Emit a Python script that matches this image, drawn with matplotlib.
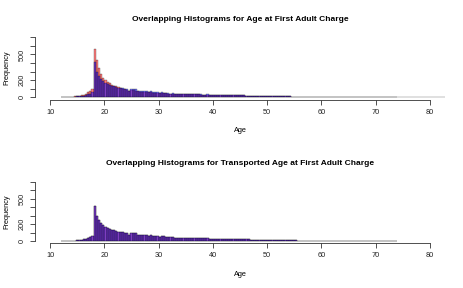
import matplotlib.pyplot as plt
import numpy as np

plt.rcParams['font.family'] = ['Liberation Sans', 'DejaVu Sans']

# bin layout: 0.4-year bins starting at age 12
bin_start = 12.0
bin_width = 0.4

# counts per bin, age at first adult charge (original, red)
original_counts = [
    1, 2, 2, 3, 4, 6, 8, 12, 16, 22, 30, 40, 55, 70, 95,          # 12.0 - 17.6
    560, 440, 340, 270, 225, 200, 175, 160, 145, 135,               # 18.0 - 21.6
    125, 118, 110, 100, 92, 85, 72, 80, 78, 74,                     # 22.0 - 25.6
    66, 64, 62, 60, 58, 56, 55, 52, 50, 48,                         # 26.0 - 29.6
    46, 48, 45, 44, 42, 40, 40, 38, 37, 38,                         # 30.0 - 33.6
    36, 35, 35, 34, 33, 34, 32, 32, 31, 30,                         # 34.0 - 37.6
    30, 29, 30, 28, 28, 27, 28, 26, 25, 25,                         # 38.0 - 41.6
    24, 24, 23, 22, 22, 21, 21, 20, 19, 19,                         # 42.0 - 45.6
    18, 18, 17, 16, 16, 15, 15, 14, 13, 13,                         # 46.0 - 49.6
    12, 12, 11, 11, 10, 10, 9, 9, 8, 8,                             # 50.0 - 53.6
    8, 7, 7, 6, 6, 6, 5, 5, 5, 4,                                   # 54.0 - 57.6
    4, 4, 4, 3, 3, 3, 3, 3, 2, 2,                                   # 58.0 - 61.6
    2, 2, 2, 2, 2, 1, 2, 1, 1, 1,                                   # 62.0 - 65.6
    1, 1, 1, 1, 1, 1, 1, 1, 1, 1,                                   # 66.0 - 69.6
    1, 1, 1, 1, 1, 1, 1, 1, 1, 1,                                   # 70.0 - 73.6
    1, 0, 1, 0, 1, 0, 0, 1, 0, 0,                                   # 74.0 - 77.6
    1, 0, 0, 0, 1, 0, 0, 0, 0, 0,                                   # 78.0 - 81.6
    0, 0, 1, 0, 0, 0, 0, 0, 0, 1,                                   # 82.0 - 85.6
]

# counts per bin, transported age at first adult charge (blue)
transported_counts = [
    1, 1, 2, 2, 3, 4, 6, 8, 10, 14, 18, 25, 32, 42, 55,             # 12.0 - 17.6
    410, 290, 245, 215, 190, 165, 150, 140, 130, 125,               # 18.0 - 21.6
    118, 112, 108, 102, 98, 90, 75, 100, 95, 92,                    # 22.0 - 25.6
    68, 72, 74, 74, 70, 65, 68, 62, 58, 56,                         # 26.0 - 29.6
    50, 60, 54, 50, 46, 42, 44, 40, 38, 40,                         # 30.0 - 33.6
    38, 36, 37, 35, 34, 35, 33, 32, 32, 31,                         # 34.0 - 37.6
    30, 30, 32, 28, 29, 27, 28, 26, 26, 25,                         # 38.0 - 41.6
    24, 25, 23, 22, 23, 21, 21, 20, 19, 20,                         # 42.0 - 45.6
    18, 18, 17, 17, 16, 15, 15, 14, 14, 13,                         # 46.0 - 49.6
    12, 12, 11, 11, 10, 10, 9, 9, 9, 8,                             # 50.0 - 53.6
    8, 7, 7, 7, 6, 6, 5, 5, 5, 5,                                   # 54.0 - 57.6
    4, 4, 4, 3, 3, 3, 3, 3, 2, 2,                                   # 58.0 - 61.6
    2, 2, 2, 2, 2, 2, 1, 1, 1, 1,                                   # 62.0 - 65.6
    1, 1, 1, 1, 1, 1, 1, 1, 1, 1,                                   # 66.0 - 69.6
    1, 1, 1, 1, 1, 1, 1, 1, 1, 1,                                   # 70.0 - 73.6
]

titles = ['Overlapping Histograms for Age at First Adult Charge',
          'Overlapping Histograms for Transported Age at First Adult Charge']
x_ticks = [10, 20, 30, 40, 50, 60, 70, 80]
y_ticks = [0, 100, 200, 300, 400, 500, 600, 700]
y_labels = ['0', '', '200', '', '', '500', '', '']

red = (1, 0, 0, 0.5)
blue = (0, 0, 1, 0.5)
edge = (0, 0, 0, 0.7)


def edges(counts):
    return bin_start + bin_width * np.arange(len(counts))


def style_axis(ax, title):
    ax.set_xlim(7.2, 82.8)
    ax.set_ylim(-28, 728)
    for s in ['top', 'right']:
        ax.spines[s].set_visible(False)
    ax.spines['bottom'].set_bounds(10, 80)
    ax.spines['left'].set_bounds(0, 700)
    for s in ['bottom', 'left']:
        ax.spines[s].set_linewidth(0.6)
        ax.spines[s].set_color('#333333')
    ax.set_xticks(x_ticks)
    ax.set_yticks(y_ticks)
    ax.set_yticklabels(y_labels, rotation=90, va='center')
    ax.tick_params(length=3.5, width=0.6, labelsize=5.3, color='#333333',
                   labelcolor='#222222', pad=3)
    ax.set_xlabel('Age', fontsize=5.3, labelpad=8)
    ax.set_ylabel('Frequency', fontsize=5.3, labelpad=6)
    ax.set_title(title, fontsize=6.0, fontweight='bold', pad=10)


fig = plt.figure(figsize=(4.64, 2.88), dpi=100)
ax1 = fig.add_axes([0.0754, 0.6545, 0.8836, 0.224])
ax2 = fig.add_axes([0.0754, 0.1549, 0.8836, 0.2226])

# top: original (red) with transported (blue) on top
ax1.bar(edges(original_counts), original_counts, width=bin_width, align='edge',
        color=red, edgecolor=edge, linewidth=0.25)
ax1.bar(edges(transported_counts), transported_counts, width=bin_width, align='edge',
        color=blue, edgecolor=edge, linewidth=0.25)
style_axis(ax1, titles[0])

# bottom: both series are the transported ages, so they overlap exactly
ax2.bar(edges(transported_counts), transported_counts, width=bin_width, align='edge',
        color=red, edgecolor=edge, linewidth=0.25)
ax2.bar(edges(transported_counts), transported_counts, width=bin_width, align='edge',
        color=blue, edgecolor=edge, linewidth=0.25)
style_axis(ax2, titles[1])

fig.savefig('out.png', dpi=100)
